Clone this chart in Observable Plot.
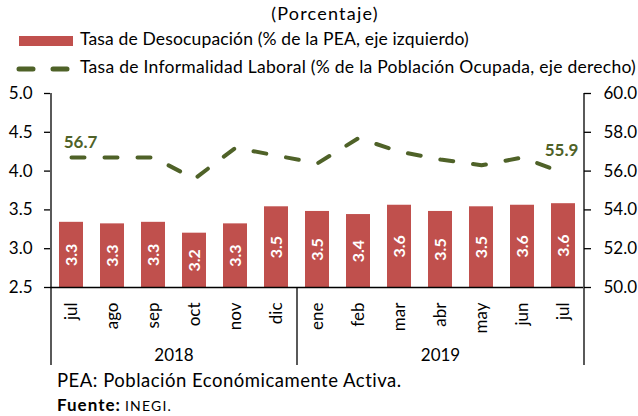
<!DOCTYPE html>
<html><head><meta charset="utf-8">
<script src="https://cdn.jsdelivr.net/npm/d3@7"></script>
<script src="https://cdn.jsdelivr.net/npm/@observablehq/plot@0.6"></script>
<style>
body{margin:0;background:#fff;font-family:Lato,sans-serif;color:#000;}
#wrap{position:relative;width:638px;height:416px;overflow:hidden;}
#head{position:relative;width:638px;height:84px;}
#chart{position:relative;width:638px;height:286px;}
#foot{position:relative;width:638px;height:46px;}
.abs{position:absolute;white-space:nowrap;}
</style></head><body>
<div id="wrap">
  <div id="head">
    <svg width="638" height="84" style="position:absolute;left:0;top:0;font-family:Lato,sans-serif">
      <text x="325" y="15" text-anchor="middle" dominant-baseline="middle" font-size="18" letter-spacing="1.2">(Porcentaje)</text>
      <rect x="19" y="36" width="54" height="10" fill="#C0504D"></rect>
      <text x="80" y="41" dominant-baseline="middle" font-size="17.5" letter-spacing="0.15">Tasa de Desocupación (% de la PEA, eje izquierdo)</text>
      <line x1="19" y1="69" x2="70" y2="69" stroke="#4F6228" stroke-width="5" stroke-dasharray="14,20" stroke-linecap="round"></line>
      <text x="80" y="69" dominant-baseline="middle" font-size="17.5" letter-spacing="0.27">Tasa de Informalidad Laboral (% de la Población Ocupada, eje derecho)</text>
    </svg>
  </div>
  <div id="chart"></div>
  <div id="foot">
    <div class="abs" style="left:57px;top:0px;line-height:20px;font-size:18.5px;letter-spacing:0.5px">PEA: Población Económicamente Activa.</div>
    <div class="abs" style="left:57px;top:25px;line-height:20px;"><b style="font-size:17px;letter-spacing:1px">Fuente:</b> <span style="font-size:14px;letter-spacing:1.2px">INEGI.</span></div>
  </div>
</div>
<script>
// ---- data ----
const months = ["jul","ago","sep","oct","nov","dic","ene","feb","mar","abr","may","jun","jul"];
const years = [2018,2018,2018,2018,2018,2018,2019,2019,2019,2019,2019,2019,2019];
const desocupacion = [3.34,3.32,3.34,3.20,3.32,3.54,3.48,3.44,3.56,3.48,3.54,3.56,3.58];
const informalidad = [56.7,56.7,56.7,55.6,57.2,56.8,56.4,57.7,57.0,56.6,56.3,56.7,55.9];
const leftTicks = [2.5,3.0,3.5,4.0,4.5,5.0];
const rightTicks = [50,52,54,56,58,60];
const yearLabels = ["2018","2019"];

// ---- layout ----
const W = 638, H = 286, mL = 50, mR = 55, mT = 9, mB = 83;
const yMin = 2.5, yMax = 5, rMin = 50, rMax = 60;
const plotH = H - mT - mB;
const step = (W - mL - mR) / months.length;
const toLeft = v => yMin + (v - rMin) * (yMax - yMin) / (rMax - rMin);
const fromLeft = v => rMin + (v - yMin) * (rMax - rMin) / (yMax - yMin);
const yExt = yMin - 78 * (yMax - yMin) / plotH;

const data = months.map((m, i) => ({key: years[i] + "-" + m, month: m, year: years[i], des: desocupacion[i], inf: informalidad[i]}));
const green = "#4F6228", red = "#C0504D";

// year groups
const groups = yearLabels.map(y => {
  const idx = data.map((d, i) => i).filter(i => String(data[i].year) === y);
  const mid = (idx[0] + idx[idx.length - 1]) / 2;
  return {year: y, key: data[Math.floor(mid)].key, frac: mid - Math.floor(mid)};
});
const sepIdx = data.findIndex((d, i) => i > 0 && d.year !== data[i - 1].year) - 1;

const chart = Plot.plot({
  width: W, height: H,
  marginLeft: mL, marginRight: mR, marginTop: mT, marginBottom: mB,
  style: {fontFamily: "Lato, sans-serif", fontSize: "17px", color: "#000", background: "transparent", overflow: "visible"},
  x: {type: "band", domain: data.map(d => d.key), paddingInner: 0.415, paddingOuter: 0.2075, label: null},
  y: {domain: [yMin, yMax], label: null},
  marks: [
    Plot.barY(data, {x: "key", y1: yMin, y2: "des", fill: red}),
    Plot.text(data, {x: "key", y: d => (yMin + d.des) / 2, text: d => d.des.toFixed(1), rotate: -90, fill: "white", fontWeight: "bold", fontSize: 16}),
    Plot.line(data, {x: "key", y: d => toLeft(d.inf), stroke: green, strokeWidth: 4, strokeDasharray: "13,20", strokeLinecap: "round"}),
    Plot.text([data[0]], {x: "key", y: d => toLeft(d.inf), text: d => d.inf.toFixed(1), fill: green, fontWeight: "bold", fontSize: 17, dx: 9, dy: -15}),
    Plot.text([data[data.length - 1]], {x: "key", y: d => toLeft(d.inf), text: d => d.inf.toFixed(1), fill: green, fontWeight: "bold", fontSize: 17, dx: -2, dy: -22}),
    Plot.ruleY([yMin], {stroke: "#000", strokeWidth: 1.3}),
    Plot.ruleX([data[0]], {x: "key", dx: -step / 2, y1: yMax, y2: yExt, stroke: "#000", strokeWidth: 1.3}),
    Plot.ruleX([data[sepIdx]], {x: "key", dx: step / 2, y1: yMin, y2: yExt, stroke: "#000", strokeWidth: 1.3}),
    Plot.ruleX([data[data.length - 1]], {x: "key", dx: step / 2, y1: yMax, y2: yExt, stroke: "#000", strokeWidth: 1.3}),
    Plot.axisY(leftTicks, {anchor: "left", tickSize: 6, tickPadding: 12, tickFormat: d => d.toFixed(1), label: null, strokeWidth: 1.3}),
    Plot.axisY(rightTicks.map(toLeft), {anchor: "right", tickSize: 7, tickPadding: 13, tickFormat: d => fromLeft(d).toFixed(1), label: null, strokeWidth: 1.3}),
    Plot.axisX({tickRotate: -90, tickSize: 0, tickPadding: 15, tickFormat: k => k.split("-")[1], label: null}),
    ...groups.map(g => Plot.text([g], {x: "key", text: "year", frameAnchor: "bottom", dx: g.frac * step, dy: 73, fontSize: 17}))
  ]
});
document.getElementById("chart").appendChild(chart);
</script>
</body></html>
